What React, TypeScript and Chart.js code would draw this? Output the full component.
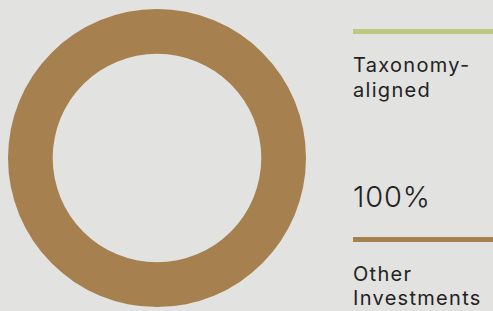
import React, { useEffect, useRef } from "react";
import { Chart, registerables } from "chart.js";

Chart.register(...registerables);

const categories = ["Taxonomy-aligned", "Other Investments"];
const values = [0, 100];
const colors = ["#bcc97e", "#a6804e"];
const valueLabel = "100%";

const BG = "#e2e2e0";
const FONT = "Inter, 'Noto Sans', sans-serif";

export default function App() {
  const ref = useRef<HTMLCanvasElement | null>(null);

  useEffect(() => {
    if (!ref.current) return;
    const chart = new Chart(ref.current, {
      type: "doughnut",
      data: {
        labels: categories,
        datasets: [
          {
            data: values,
            backgroundColor: colors,
            borderWidth: 0,
          },
        ],
      },
      options: {
        animation: false,
        responsive: false,
        maintainAspectRatio: false,
        cutout: "70%",
        layout: { padding: 0 },
        plugins: {
          legend: { display: false },
          tooltip: { enabled: false },
        },
      },
    });
    return () => chart.destroy();
  }, []);

  const textStyle: React.CSSProperties = {
    position: "absolute",
    left: 353,
    fontFamily: FONT,
    fontSize: 20,
    letterSpacing: 1.3,
    lineHeight: "25px",
    color: "#222",
    margin: 0,
    whiteSpace: "nowrap",
  };

  return (
    <div
      style={{
        position: "fixed",
        left: 0,
        top: 0,
        width: 493,
        height: 311,
        background: BG,
        overflow: "hidden",
      }}
    >
      <canvas
        ref={ref}
        width={298}
        height={298}
        style={{ position: "absolute", left: 8, top: 9, width: 298, height: 298 }}
      />
      <div style={{ position: "absolute", left: 353, top: 29, width: 140, height: 5, background: colors[0] }} />
      <div style={{ ...textStyle, top: 53 }}>
        Taxonomy-
        <br />
        aligned
      </div>
      <div
        style={{
          ...textStyle,
          top: 182,
          fontSize: 29,
          fontWeight: 300,
          letterSpacing: 0.8,
          lineHeight: "30px",
        }}
      >
        {valueLabel}
      </div>
      <div style={{ position: "absolute", left: 353, top: 237, width: 140, height: 5, background: colors[1] }} />
      <div style={{ ...textStyle, top: 262, lineHeight: "24px" }}>
        Other
        <br />
        Investments
      </div>
    </div>
  );
}
